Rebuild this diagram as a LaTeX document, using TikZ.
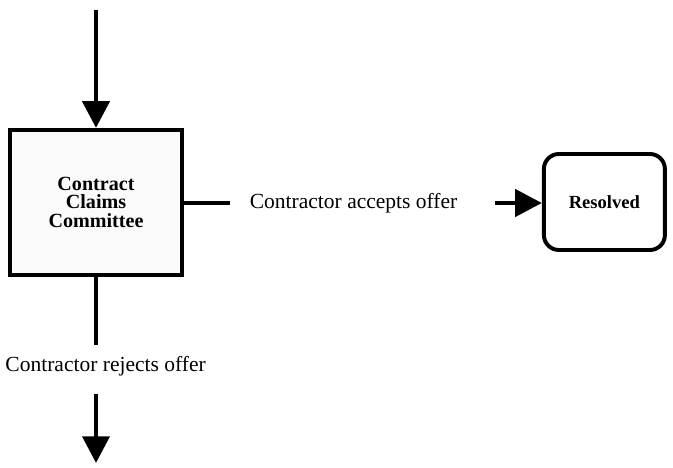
\documentclass[tikz,border=0pt]{standalone}
\usepackage{fontspec}
\setmainfont{Liberation Serif}
\usetikzlibrary{arrows.meta}
\usetikzlibrary{positioning}

\tikzset{
    committeebox/.style={draw, line width=2.8pt, fill=black!2, minimum width=4.3cm, minimum height=3.625cm, align=center, inner sep=0pt, font=\fontsize{14.3}{13}\selectfont\bfseries},
    resolvedbox/.style={draw, line width=2.8pt, rounded corners=0.375cm, minimum width=3.025cm, minimum height=2.4cm, inner sep=0pt, font=\fontsize{13.2}{15}\selectfont\bfseries},
    flowlabel/.style={inner sep=0pt, font=\fontsize{15.3}{18}\selectfont},
    flowline/.style={line width=3.5pt},
    flowarrow/.style={line width=3.5pt, -{Triangle[length=19pt,width=19pt]}}
}

\begin{document}
\begin{tikzpicture}
                \useasboundingbox (0,0) rectangle (16.825,-11.7);

                % boxes
                \node[committeebox] (committee) at (2.4,-5.06) {Contract\\Claims\\Committee};
                \node[resolvedbox] (resolved) at (15.11,-5.05) {Resolved};

                % top input
                \coordinate (input) at (2.4,-0.25);
                \draw[flowarrow] (input) -- (committee.north);

                % accepts
                \coordinate (acceptend) at (5.75,-5.075);
                \coordinate (acceptstart) at (12.375,-5.075);
                \draw[flowline] (committee.east |- acceptend) -- (acceptend);
                \node[flowlabel] (accepts) at (8.84,-5.075) {Contractor accepts offer};
                \draw[flowarrow] (acceptstart) -- (resolved.west |- acceptstart);

                % rejects
                \coordinate (rejectend) at (2.4,-8.625);
                \coordinate (rejectstart) at (2.4,-9.85);
                \coordinate (output) at (2.4,-11.575);
                \draw[flowline] (committee.south) -- (rejectend);
                \node[flowlabel] (rejects) at (2.64,-9.15) {Contractor rejects offer};
                \draw[flowarrow] (rejectstart) -- (output);

            \end{tikzpicture}
\end{document}
